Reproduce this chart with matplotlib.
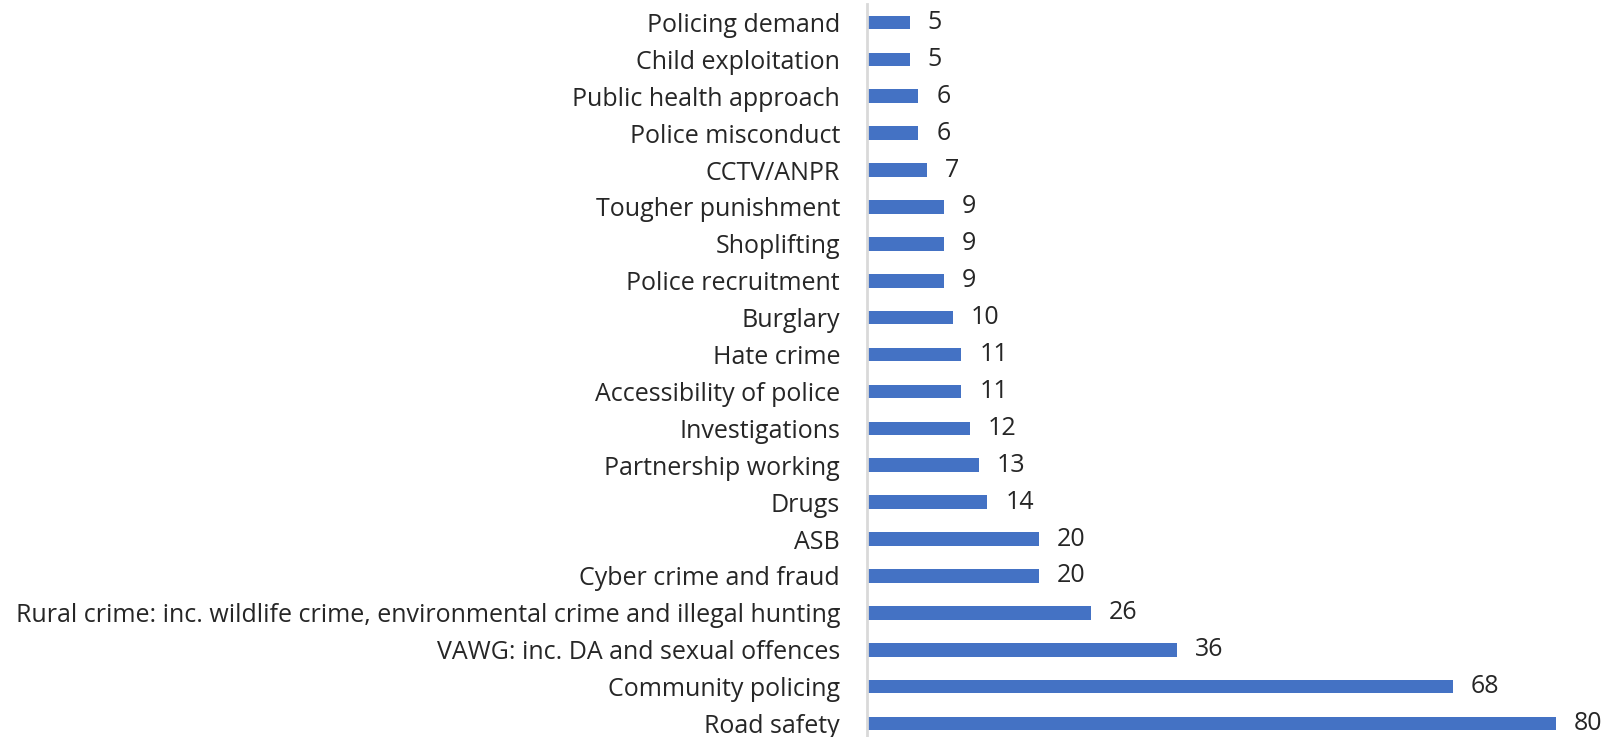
import matplotlib
matplotlib.use("Agg")
import matplotlib.pyplot as plt

categories = [
    "Policing demand", "Child exploitation", "Public health approach",
    "Police misconduct", "CCTV/ANPR", "Tougher punishment", "Shoplifting",
    "Police recruitment", "Burglary", "Hate crime", "Accessibility of police",
    "Investigations", "Partnership working", "Drugs", "ASB",
    "Cyber crime and fraud",
    "Rural crime: inc. wildlife crime, environmental crime and illegal hunting",
    "VAWG: inc. DA and sexual offences", "Community policing", "Road safety",
]
values = [5, 5, 6, 6, 7, 9, 9, 9, 10, 11, 11, 12, 13, 14, 20, 20, 26, 36, 68, 80]

plt.rcParams['font.family'] = ['Open Sans', 'DejaVu Sans']
W, H = 1606, 737
fig = plt.figure(figsize=(W / 100, H / 100), dpi=100)
left = 866.5 / W
top = 1 - 4 / H
ax = fig.add_axes([left, top - 738 / H, 1 - left, 738 / H])

y = list(range(len(categories)))
ax.barh(y, values, height=0.37, color="#4472C4")
ax.set_ylim(len(categories) - 0.5, -0.5)
ax.set_xlim(0, (W - 866.5) / ((1557 - 867.5) / 80))
ax.set_yticks(y)
ax.set_yticklabels(categories, fontsize=18, color="#262626")
ax.tick_params(axis='y', length=0, pad=19)
ax.set_xticks([])
for s in ["top", "right", "bottom"]:
    ax.spines[s].set_visible(False)
ax.spines["left"].set_color("#D9D9D9")
ax.spines["left"].set_linewidth(2)
for yi, v in zip(y, values):
    ax.text(v + 2.1, yi, str(v), va="center", ha="left", fontsize=18, color="#262626")

fig.savefig("out.png", dpi=100)
